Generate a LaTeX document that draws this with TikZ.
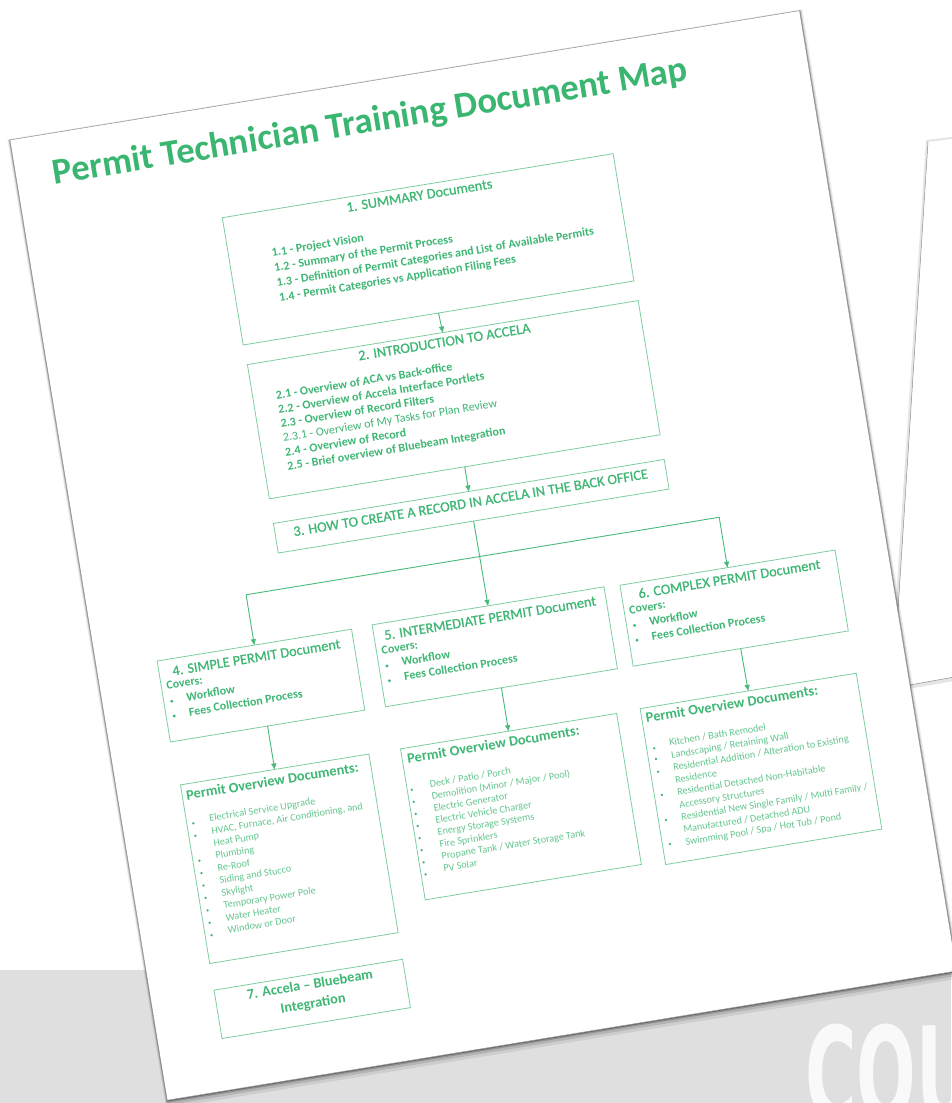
\documentclass[tikz,border=0pt]{standalone}
\usepackage{fontspec}
\setmainfont{Carlito}
\newfontface\medfont{Carlito}[FakeBold=0.7]
\newfontfamily\coufont{DejaVu Sans}
\usetikzlibrary{arrows.meta}
\definecolor{gtitle}{RGB}{58,182,112}
\definecolor{gtext}{RGB}{62,182,116}
\definecolor{glight}{RGB}{100,198,142}
\definecolor{gline}{RGB}{125,206,158}
\definecolor{garrow}{RGB}{72,186,122}
\definecolor{bggray}{RGB}{223,223,223}
\begin{document}
\begin{tikzpicture}[x=1pt,y=1pt,
  box/.style={draw=gline, line width=0.8pt, inner sep=0, outer sep=0, anchor=north west},
  ttl/.style={font=\medfont\fontsize{14.3}{17}\selectfont, text=gtext, anchor=base, inner sep=0},
  itm/.style={font=\bfseries\fontsize{12}{14}\selectfont, text=gtext, anchor=base west, inner sep=0},
  itr/.style={font=\fontsize{12}{14}\selectfont, text=gtext, anchor=base west, inner sep=0},
  ovt/.style={font=\bfseries\fontsize{14.3}{16}\selectfont, text=gtext, anchor=base west, inner sep=0},
  ovi/.style={font=\fontsize{10.2}{12}\selectfont, text=glight, anchor=base west, inner sep=0},
  bx7/.style={font=\bfseries\fontsize{14.3}{16}\selectfont, text=gtext, anchor=base, inner sep=0},
  ln/.style={draw=garrow, line width=0.9pt},
  arr/.style={draw=garrow, line width=0.9pt, -{Triangle[length=6pt,width=5pt]}}]
\useasboundingbox (0,0) rectangle (951,1103);
% background
\fill[white] (0,0) rectangle (951,1103);
\fill[bggray] (0,0) rectangle (951,133);
\node[font=\coufont\bfseries\fontsize{130}{130}\selectfont, text=white!95!gray, anchor=base west, inner sep=0, xscale=0.54] (cou) at (805,-17) {COU};
% second page (behind)
\begin{scope}[shift={(0,1103)}, yscale=-1]
  \fill[black, opacity=0.10] (926,140) -- (960,136) -- (960,680) -- (890,692) -- cycle;
  \fill[white] (928,142) -- (960,138) -- (960,676) -- (893,688) -- cycle;
  \draw[black!45, line width=0.5pt] (928,142) -- (893,688) -- (960,676);
\end{scope}
% main page
\begin{scope}[shift={(10,963)}, rotate=9.3, transform shape]
  \fill[black, opacity=0.08] (-2.5,1) rectangle (803,-981);
  \fill[black, opacity=0.12] (-1.5,0.5) rectangle (801.8,-978);
  \fill[black, opacity=0.2] (-0.8,0) rectangle (801,-975.5);
  \fill[black, opacity=0.25] (-0.4,0) rectangle (800.5,-974.2);
  \fill[white] (0,0) rectangle (800,-973);
  \draw[black!40, line width=0.4pt] (0,0) rectangle (800,-973);

  \node[font=\bfseries\fontsize{36.6}{40}\selectfont, text=gtitle, anchor=base west, inner sep=0] (title) at (37,-51) {Permit Technician Training Document Map};

  % box 1
  \node[box, minimum width=396, minimum height=129] (b1) at (197,-111) {};
  \node[ttl] (b1t) at (395,-125.5) {1. SUMMARY Documents};
  \foreach \t [count=\i from 0] in {1.1 - Project Vision, 1.2 - Summary of the Permit Process, 1.3 - Definition of Permit Categories and List of Available Permits, 1.4 - Permit Categories vs Application Filing Fees}
    \node[itm] (b1i\i) at (240,-157.5-15.3*\i) {\t};

  % box 2
  \node[box, minimum width=396, minimum height=136] (b2) at (198,-260) {};
  \node[ttl] (b2t) at (396,-274) {2. INTRODUCTION TO ACCELA};
  \node[itm] (b2i0) at (221,-299) {2.1 - Overview of ACA vs Back-office};
  \node[itm] (b2i1) at (221,-313.4) {2.2 - Overview of Accela Interface Portlets};
  \node[itm] (b2i2) at (221,-327.8) {2.3 - Overview of Record Filters};
  \node[itr] (b2i3) at (221,-342.2) {2.3.1 - Overview of My Tasks for Plan Review};
  \node[itm] (b2i4) at (221,-356.6) {2.4 - Overview of Record};
  \node[itm] (b2i5) at (221,-371) {2.5 - Brief overview of Bluebeam Integration};

  % box 3
  \node[box, minimum width=396, minimum height=30] (b3) at (198,-421) {};
  \node[ttl] (b3t) at (396,-437) {3. HOW TO CREATE A RECORD IN ACCELA IN THE BACK OFFICE};

  % boxes 4,5,6
  \node[box, minimum width=197, minimum height=82] (b4) at (61,-538) {};
  \node[box, minimum width=235, minimum height=83] (b5) at (279,-537) {};
  \node[box, minimum width=218, minimum height=82] (b6) at (530,-538) {};
  \node[ttl] (b4t) at (159.5,-555) {4. SIMPLE PERMIT Document};
  \node[ttl] (b5t) at (396.5,-554) {5. INTERMEDIATE PERMIT Document};
  \node[ttl] (b6t) at (639,-554) {6. COMPLEX PERMIT Document};
  \foreach \L/\n in {61/4, 279/5, 530/6} {
    \node[itm] (c\n) at (\L+5,-568) {Covers:};
    \node[itm] (w\n) at (\L+23,-582.5) {Workflow};
    \node[itm] (f\n) at (\L+23,-597.5) {Fees Collection Process};
    \fill[gtext] (\L+8,-580) circle (1.6);
    \fill[gtext] (\L+8,-595) circle (1.6);
  }

  % overview boxes
  \node[box, minimum width=191, minimum height=181] (o4) at (64,-664) {};
  \node[box, minimum width=219, minimum height=153] (o5) at (287,-664) {};
  \node[box, minimum width=219, minimum height=158] (o6) at (530,-663) {};
  \node[ovt] (o4t) at (68,-680) {Permit Overview Documents:};
  \node[ovt] (o5t) at (292,-679.5) {Permit Overview Documents:};
  \node[ovt] (o6t) at (534,-678) {Permit Overview Documents:};
  \foreach \t [count=\i from 0] in {Electrical Service Upgrade, {HVAC, Furnace, Air Conditioning, and}, Heat Pump, Plumbing, Re-Roof, Siding and Stucco, Skylight, Temporary Power Pole, Water Heater, Window or Door}
    \node[ovi] (o4i\i) at (87,-705-12.6*\i) {\t};
  \foreach \i in {0,1,3,4,5,6,7,8,9}
    \fill[gtext] (70.5,-705-12.6*\i+1) circle (1.3);
  \foreach \t [count=\i from 0] in {Deck / Patio / Porch, Demolition (Minor / Major / Pool), Electric Generator, Electric Vehicle Charger, Energy Storage Systems, Fire Sprinklers, Propane Tank / Water Storage Tank, PV Solar}
    \node[ovi] (o5i\i) at (310,-706.7-12.25*\i) {\t};
  \foreach \i in {0,...,7}
    \fill[gtext] (291.5,-706.7-12.25*\i+0.5) circle (1.3);
  \foreach \t [count=\i from 0] in {Kitchen / Bath Remodel, Landscaping / Retaining Wall, Residential Addition / Alteration to Existing, Residence, Residential Detached Non-Habitable, Accessory Structures, Residential New Single Family / Multi Family /, Manufactured / Detached ADU, Swimming Pool / Spa / Hot Tub / Pond}
    \node[ovi] (o6i\i) at (553,-704.6-12.6*\i) {\t};
  \foreach \v in {704.4,715.3,728.2,751.7,777.1,801.5}
    \fill[gtext] (537.5,-\v) circle (1.3);

  % box 7
  \node[box, minimum width=191, minimum height=49] (b7) at (64,-872) {};
  \node[bx7] (b7a) at (159.5,-886.5) {7. Accela -- Bluebeam};
  \node[bx7] (b7b) at (159.5,-905.5) {Integration};

  % connectors
  \coordinate (jL) at (159.5,-487);
  \coordinate (jR) at (639,-487);
  \draw[arr] (b1.south) -- (b2.north);
  \draw[arr] (b2.south) -- (b3.north);
  \draw[arr] (b3.south) -- (b5.north);
  \draw[ln] (jL) -- (jR);
  \draw[arr] (jL) -- (b4.north);
  \draw[arr] (jR) -- (b6.north);
  \draw[arr] (b4.south) -- (o4.north);
  \draw[arr] (b5.south) -- (o5.north);
  \draw[arr] (b6.south) -- (o6.north);
\end{scope}
\end{tikzpicture}
\end{document}
